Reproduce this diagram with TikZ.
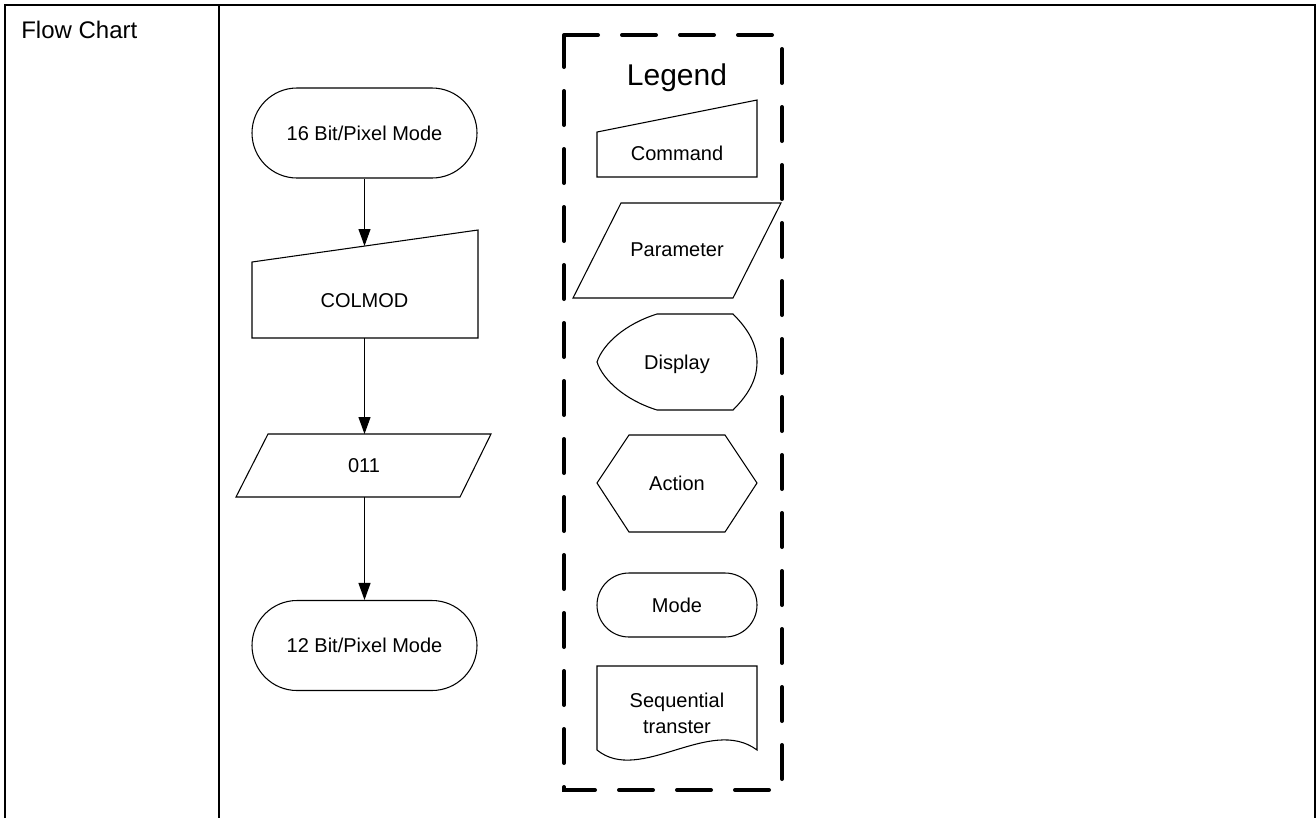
\documentclass[tikz,border=0pt]{standalone}
\usepackage{fontspec}
\setmainfont{Liberation Sans}
\usetikzlibrary{arrows.meta}
\begin{document}
\begin{tikzpicture}[x=0.75pt,y=-0.75pt,
  shp/.style={draw, line width=0.8pt},
  lbl/.style={font=\fontsize{15}{18}\selectfont, text height=10.7pt, text depth=0pt, inner sep=0pt},
  term/.style={lbl, draw, line width=0.8pt, rounded corners=33.75pt, minimum width=168.75pt, minimum height=67.5pt},
  arr/.style={-{Triangle[length=12.75pt,width=9pt]}, line width=0.8pt},
  frame/.style={line width=1.7pt},
  legendbox/.style={line width=3pt, line cap=round, dash pattern=on 25.5pt off 18pt}]
\useasboundingbox (0,0) rectangle (1316,818);
% table frame
\draw[frame] (5,818) -- (5,5) -- (1315,5) -- (1315,818);
\draw[frame] (219,5) -- (219,818);
\node[anchor=base west, inner sep=0pt, font=\fontsize{18}{21}\selectfont] (title) at (21,38) {Flow Chart};

% ---------- flow chart ----------
\node[term] (m16) at (364.5,133) {16 Bit/Pixel Mode};
\draw[shp] (252,338) -- (478,338) -- (478,230) -- (252,262) -- cycle;
\node[lbl] (colmod) at (364.5,300) {COLMOD};
\coordinate (colmodT) at (364.5,246);
\coordinate (colmodB) at (364.5,338);
\draw[shp] (268,434) -- (491,434) -- (460,497) -- (236,497) -- cycle;
\node[lbl] (p011) at (364,465) {011};
\coordinate (p011T) at (364.5,434);
\coordinate (p011B) at (364.5,497);
\node[term] (m12) at (364.5,645.5) {12 Bit/Pixel Mode};

\draw[arr] (m16.south) -- (colmodT);
\draw[arr] (colmodB) -- (p011T);
\draw[arr] (p011B) -- (m12.north);

% ---------- legend ----------
\draw[legendbox] (564,35) -- (782,35) -- (782,790) -- (564,790) -- cycle;
\node[anchor=base, inner sep=0pt, font=\fontsize{22.5}{26}\selectfont] (legend) at (677,85) {Legend};

% command
\draw[shp] (597,177) -- (757,177) -- (757,100) -- (597,132) -- cycle;
\node[lbl] (cmd) at (677,153) {Command};
% parameter
\draw[shp] (621,203) -- (781,203) -- (733,298) -- (573,298) -- cycle;
\node[lbl] (param) at (677,249) {Parameter};
% display
\draw[shp] (657,314) -- (733,314)
  .. controls (749,330) and (757,345) .. (757,362)
  .. controls (757,379) and (749,394) .. (733,410)
  -- (657,410)
  .. controls (625,400) and (603,380) .. (597,362)
  .. controls (603,344) and (625,324) .. (657,314) -- cycle;
\node[lbl] (disp) at (677,362) {Display};
% action
\draw[shp] (597,483) -- (629,435) -- (725,435) -- (757,483) -- (725,532) -- (629,532) -- cycle;
\node[lbl] (act) at (677,483) {Action};
% mode
\node[term, minimum width=120pt, minimum height=48pt, rounded corners=24pt] (mode) at (677,605) {Mode};
% sequential transfer
\draw[shp] (597,750) -- (597,666) -- (757,666) -- (757,750)
  .. controls (710,715) and (640,785) .. (597,750) -- cycle;
\node[lbl] (seq1) at (677,700) {Sequential};
\node[lbl] (seq2) at (677,726) {transter};
\end{tikzpicture}
\end{document}
